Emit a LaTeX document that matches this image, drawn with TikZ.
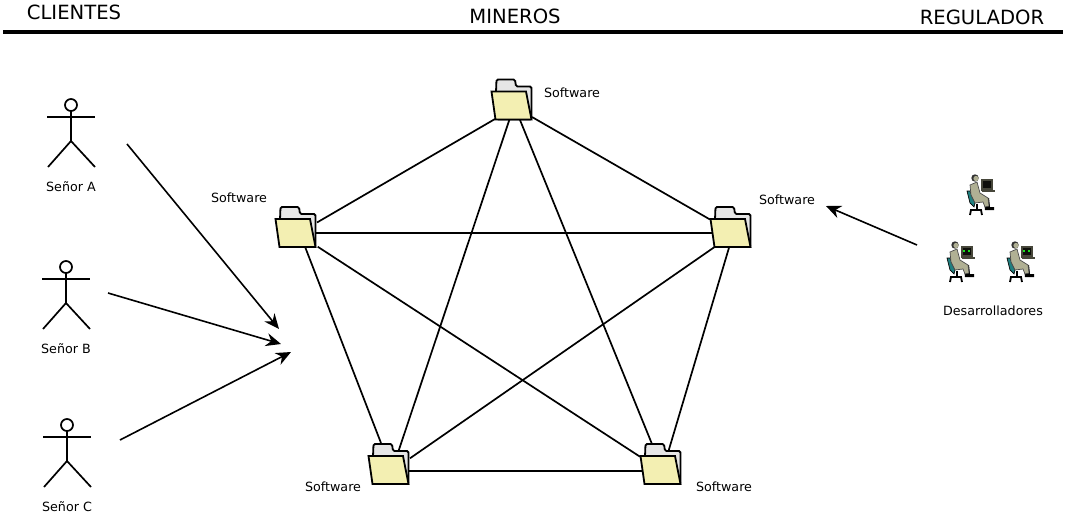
\documentclass[tikz,border=0pt]{standalone}
\usepackage{fontspec}
\setmainfont{DejaVu Sans}
\usetikzlibrary{arrows.meta}

\definecolor{folderfront}{HTML}{F3EFB2}
\definecolor{folderback}{HTML}{E6E6E6}
\definecolor{devcoat}{HTML}{B0B094}
\definecolor{devchair}{HTML}{1F7F7F}
\definecolor{devscreen}{HTML}{46463A}
\definecolor{devglow}{HTML}{20E020}

\tikzset{
  x=1pt, y=-1pt,
  link/.style={line width=1.7pt},
  flow/.style={line width=1.6pt, -{Stealth[length=15pt,width=13pt]}},
  softbody/.style={minimum width=40pt, minimum height=28pt, inner sep=0pt},
  small/.style={font=\fontsize{12.7}{15}\selectfont},
  head/.style={font=\fontsize{19.6}{23}\selectfont},
  folder/.pic={
    \draw[line width=1.8pt, fill=folderback, rounded corners=1.5pt] (-16,-14) -- (-15.5,-26.5) -- (3,-26.5) -- (4,-19.5) -- (19.5,-19.5) -- (19.5,13.5) -- (-15,13.5) -- cycle;
    \draw[line width=1.8pt, fill=folderfront] (-20.5,-14.5) -- (14,-14.5) -- (19.5,13.5) -- (-16.5,13.5) -- cycle;
  },
  actor/.pic={
    \draw[line width=1.7pt] (0,-12) circle (6);
    \draw[line width=1.7pt] (-24,0) -- (24,0);
    \draw[line width=1.7pt] (0,-6) -- (0,24);
    \draw[line width=1.7pt] (-23,50) -- (0,24) -- (24,50);
  },
  developer/.pic={
    % chair
    \fill[devchair, draw=black, line width=.7pt] (-13,-4) -- (-10,-4) -- (-5,8) -- (-6,12) -- (-10,8) -- cycle;
    \draw[line width=1.8pt] (-3,9) -- (-3,14) (-10,20) -- (-9,15) -- (1,15) -- (2,20);
    % legs and feet
    \fill[black] (4,5) -- (9,3) -- (10,12) -- (14,12) -- (14,15) -- (5,15) -- cycle;
    % body
    \fill[devcoat, draw=black!70, line width=.7pt] (-10,-10) -- (-3,-13) -- (0,-2) -- (8,3) -- (9,11) -- (5,12) -- (3,7) -- (-5,8) -- (-9,0) -- cycle;
    % head
    \fill[black!80] (-5,-17) circle (3.7);
    \fill[devcoat] (-4,-16.5) circle (2.6);
    % monitor and keyboard
    \fill[devscreen] (1,-16) rectangle (13,-4);
    \fill[black!80!devscreen] (3,-14) rectangle (11,-7);
    \fill[devscreen] (2,-5) rectangle (15,-3);
  },
  glow/.pic={
    \fill[devglow] (3,-12) rectangle (4.5,-10);
    \fill[devglow] (8,-12) rectangle (9.5,-10);
  },
}

\begin{document}
\begin{tikzpicture}
\useasboundingbox (0,0) rectangle (1066,517);

% headings
\node[head] (clientes) at (74,12) {CLIENTES};
\node[head] (mineros) at (515,16) {MINEROS};
\node[head] (regulador) at (982,17) {REGULADOR};
\coordinate (ruleL) at (3,32);
\coordinate (ruleR) at (1063,32);
\draw[line width=4.5pt] (ruleL) -- (ruleR);

% folder positions
\foreach \name/\x/\y in {top/512/106,left/296/233.5,right/731/233.5,lowL/389/470.5,lowR/661/470.5}
\node[softbody] (\name) at (\x,\y) {};

% every folder to every other, the ends as offsets from the folders
\foreach \a/\ax/\ay/\b/\bx/\by in {
  top/-17/13/left/21/-11,
  top/20/11/right/-21/-14,
  top/-2.7/14/lowL/9.3/-18.8,
  top/8/14/lowR/-9.3/-27.2,
  left/20/-0.5/right/-19/-0.5,
  left/9/13.2/lowL/-8/-27.5,
  left/21.7/13.2/lowR/-21/-13.8,
  right/-16/13.2/lowL/21/-12.2,
  right/-1.7/13.2/lowR/7.3/-18.8,
  lowL/19/0.5/lowR/-19/0.5}
\draw[link] ([shift={(\ax,\ay)}]\a.center) -- ([shift={(\bx,\by)}]\b.center);

% folders on top of the lines
\foreach \name in {top,left,right,lowL,lowR}
\pic at (\name.center) {folder};

\node[small] (softTop) at (572,92.5) {Software};
\node[small] (softLeft) at (239,198) {Software};
\node[small] (softRight) at (787,200) {Software};
\node[small] (softLowL) at (333,487) {Software};
\node[small] (softLowR) at (724,487) {Software};

% clients
\pic at (71,117) {actor};
\pic at (66,279) {actor};
\pic at (67,437) {actor};
\node[small] (senorA) at (71,187) {Señor A};
\node[small] (senorB) at (66,349) {Señor B};
\node[small] (senorC) at (67,507) {Señor C};

% developers
\pic at (980,195) {developer};
\pic at (960,262) {developer};
\pic at (1020,262) {developer};
\pic at (960,262) {glow};
\pic at (1020,262) {glow};
\node[small] (devs) at (993,311) {Desarrolladores};

% arrows
\coordinate (fromA) at (127,144);
\coordinate (toA) at (279,329);
\coordinate (fromB) at (108,293);
\coordinate (toB) at (281,344);
\coordinate (fromC) at (120,440);
\coordinate (toC) at (291,352);
\coordinate (fromDev) at (917,245);
\coordinate (toDev) at (826,206);
\draw[flow] (fromA) -- (toA);
\draw[flow] (fromB) -- (toB);
\draw[flow] (fromC) -- (toC);
\draw[flow] (fromDev) -- (toDev);

\end{tikzpicture}
\end{document}
